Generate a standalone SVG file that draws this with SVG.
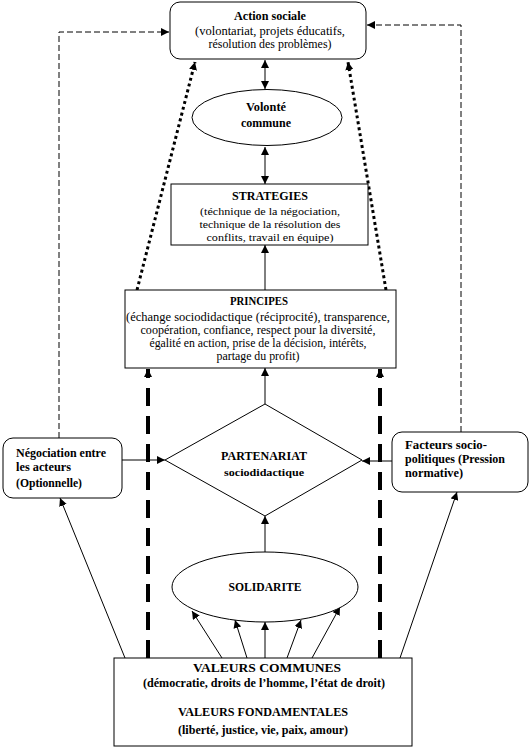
<svg xmlns="http://www.w3.org/2000/svg" width="531" height="750" viewBox="0 0 531 750">
<defs>
<marker id="arr" markerUnits="userSpaceOnUse" markerWidth="9" markerHeight="8" refX="8" refY="4" orient="auto-start-reverse">
<path d="M0,0 L8,4 L0,8 z" fill="#000"/>
</marker>
<clipPath id="stratClip"><rect x="171" y="184" width="197" height="60"/></clipPath>
<style>
.box{fill:#fff;stroke:#000;stroke-width:1}
.t{font-family:"Liberation Serif","Times New Roman",serif;font-size:12px;fill:#000;text-anchor:middle}
.tl{font-family:"Liberation Serif","Times New Roman",serif;font-size:12px;fill:#000;font-weight:bold}
.b{font-weight:bold}
.s{font-size:11px}
.ln{fill:none;stroke:#000;stroke-width:1}
.dash{fill:none;stroke:#000;stroke-width:1;stroke-dasharray:6 3}
.dot{fill:none;stroke:#000;stroke-width:3;stroke-dasharray:3 3}
.thick{fill:none;stroke:#000;stroke-width:4;stroke-dasharray:18 10}
</style>
</defs>
<rect width="531" height="750" fill="#fff"/>

<g id="connectors">
<polyline class="dash" points="59,438 59,32 169,32" marker-end="url(#arr)"/>
<polyline class="dash" points="461,432 461,25 367,25" marker-end="url(#arr)"/>
<line class="ln" x1="265" y1="60" x2="265" y2="89" marker-start="url(#arr)" marker-end="url(#arr)"/>
<line class="ln" x1="265" y1="147" x2="265" y2="184" marker-start="url(#arr)" marker-end="url(#arr)"/>
<line class="ln" x1="265" y1="290" x2="265" y2="245" marker-end="url(#arr)"/>
<line class="ln" x1="265" y1="404" x2="265" y2="368" marker-end="url(#arr)"/>
<line class="ln" x1="265" y1="552" x2="265" y2="516" marker-end="url(#arr)"/>
<line class="ln" x1="122" y1="460" x2="165" y2="460" marker-end="url(#arr)"/>
<line class="ln" x1="392" y1="461" x2="362" y2="461" marker-end="url(#arr)"/>
<line class="ln" x1="125" y1="658" x2="60" y2="498" marker-end="url(#arr)"/>
<line class="ln" x1="400" y1="658" x2="457" y2="492" marker-end="url(#arr)"/>
<line class="ln" x1="222" y1="658" x2="192" y2="611" marker-end="url(#arr)"/>
<line class="ln" x1="247" y1="658" x2="235" y2="620" marker-end="url(#arr)"/>
<line class="ln" x1="265" y1="658" x2="265" y2="622" marker-end="url(#arr)"/>
<line class="ln" x1="287" y1="658" x2="301" y2="620" marker-end="url(#arr)"/>
<line class="ln" x1="312" y1="658" x2="340" y2="607" marker-end="url(#arr)"/>
<line class="dot" x1="137" y1="290" x2="195" y2="62" marker-end="url(#arr)"/>
<line class="dot" x1="386" y1="290" x2="348" y2="62" marker-end="url(#arr)"/>
<line class="thick" x1="148" y1="658" x2="148" y2="369" marker-end="url(#arr)"/>
<line class="thick" x1="380" y1="658" x2="380" y2="369" marker-end="url(#arr)"/>
</g>

<g id="action">
<rect class="box" x="170" y="2" width="196" height="57" rx="10"/>
<text class="t b" x="270" y="20" textLength="72" lengthAdjust="spacingAndGlyphs">Action sociale</text>
<text class="t" x="270" y="35" textLength="150" lengthAdjust="spacingAndGlyphs">(volontariat, projets éducatifs,</text>
<text class="t" x="270" y="48" textLength="123" lengthAdjust="spacingAndGlyphs">résolution des problèmes)</text>
</g>

<g id="volonte">
<ellipse class="box" cx="267" cy="117.5" rx="75" ry="28"/>
<text class="t b" x="266" y="111" textLength="40" lengthAdjust="spacingAndGlyphs">Volonté</text>
<text class="t b" x="266" y="127" textLength="50" lengthAdjust="spacingAndGlyphs">commune</text>
</g>

<g id="strategies">
<rect class="box" x="171" y="184" width="197" height="61"/>
<g clip-path="url(#stratClip)">
<text class="t b" x="270" y="200" textLength="76" lengthAdjust="spacingAndGlyphs">STRATEGIES</text>
<text class="t s" x="270" y="215" textLength="140" lengthAdjust="spacingAndGlyphs">(téchnique de la négociation,</text>
<text class="t s" x="270" y="228" textLength="141" lengthAdjust="spacingAndGlyphs">technique de la résolution des</text>
<text class="t s" x="270" y="241" textLength="127" lengthAdjust="spacingAndGlyphs">conflits, travail en équipe)</text>
</g>
</g>

<g id="principes">
<rect class="box" x="125" y="290" width="271" height="78"/>
<text class="t b" x="259" y="305" textLength="58" lengthAdjust="spacingAndGlyphs">PRINCIPES</text>
<text class="t" x="258" y="321" textLength="264" lengthAdjust="spacingAndGlyphs">(échange sociodidactique (réciprocité), transparence,</text>
<text class="t" x="258" y="334" textLength="235" lengthAdjust="spacingAndGlyphs">coopération, confiance, respect pour la diversité,</text>
<text class="t" x="258" y="347" textLength="217" lengthAdjust="spacingAndGlyphs">égalité en action, prise de la décision, intérêts,</text>
<text class="t" x="258" y="360" textLength="83" lengthAdjust="spacingAndGlyphs">partage du profit)</text>
</g>

<g id="partenariat">
<polygon class="box" points="265,404 362,460 265,516 165,460"/>
<text class="t b" x="264" y="460" textLength="86" lengthAdjust="spacingAndGlyphs">PARTENARIAT</text>
<text class="t b s" x="264" y="476" textLength="80" lengthAdjust="spacingAndGlyphs">sociodidactique</text>
</g>

<g id="negociation">
<rect class="box" x="3" y="438" width="119" height="60" rx="10"/>
<text class="tl" x="16" y="457" textLength="90" lengthAdjust="spacingAndGlyphs">Négociation entre</text>
<text class="tl" x="16" y="471" textLength="55" lengthAdjust="spacingAndGlyphs">les acteurs</text>
<text class="tl" x="16" y="487" textLength="66" lengthAdjust="spacingAndGlyphs">(Optionnelle)</text>
</g>

<g id="facteurs">
<rect class="box" x="392" y="432" width="136" height="60" rx="10"/>
<text class="tl" x="405" y="449" textLength="82" lengthAdjust="spacingAndGlyphs">Facteurs socio-</text>
<text class="tl" x="405" y="463" textLength="100" lengthAdjust="spacingAndGlyphs">politiques (Pression</text>
<text class="tl" x="405" y="477" textLength="58" lengthAdjust="spacingAndGlyphs">normative)</text>
</g>

<g id="solidarite">
<ellipse class="box" cx="265" cy="587" rx="93" ry="35"/>
<text class="t b" x="265" y="591" textLength="73" lengthAdjust="spacingAndGlyphs">SOLIDARITE</text>
</g>

<g id="valeurs">
<rect class="box" x="114" y="658" width="298" height="88"/>
<text class="t b" x="267" y="672" textLength="148" lengthAdjust="spacingAndGlyphs">VALEURS COMMUNES</text>
<text class="t b" x="264" y="687" textLength="242" lengthAdjust="spacingAndGlyphs">(démocratie, droits de l’homme, l’état de droit)</text>
<text class="t b" x="263" y="716" textLength="170" lengthAdjust="spacingAndGlyphs">VALEURS FONDAMENTALES</text>
<text class="t b" x="263" y="734" textLength="170" lengthAdjust="spacingAndGlyphs">(liberté, justice, vie, paix, amour)</text>
</g>
</svg>
